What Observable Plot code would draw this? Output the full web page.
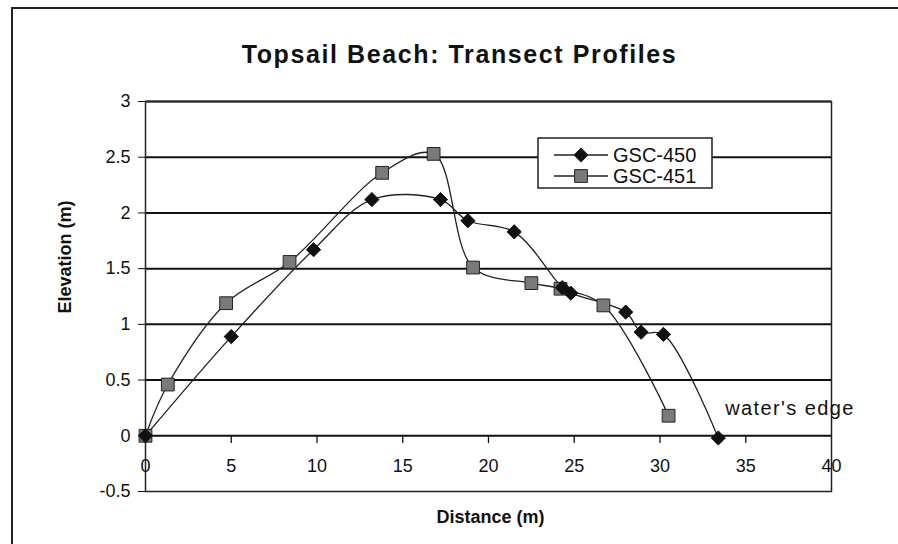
<!DOCTYPE html>
<html>
<head>
<meta charset="utf-8">
<script src="https://cdn.jsdelivr.net/npm/d3@7"></script>
<script src="https://cdn.jsdelivr.net/npm/@observablehq/plot@0.6"></script>
<style>
  html, body { margin: 0; padding: 0; background: #fff; }
</style>
</head>
<body>
<div id="chart"></div>
<script>
const title = "Topsail Beach: Transect Profiles";
const xLabel = "Distance (m)";
const yLabel = "Elevation (m)";
const seriesNames = ["GSC-450", "GSC-451"];

const x450 = [0, 5.0, 9.8, 13.2, 17.2, 18.8, 21.5, 24.3, 24.8, 28.0, 28.9, 30.2, 33.4];
const y450 = [0, 0.89, 1.67, 2.12, 2.12, 1.93, 1.83, 1.33, 1.28, 1.11, 0.93, 0.91, -0.02];

const x451 = [0, 1.3, 4.7, 8.4, 13.8, 16.8, 19.1, 22.5, 24.2, 26.7, 30.5];
const y451 = [0, 0.46, 1.19, 1.56, 2.36, 2.53, 1.51, 1.37, 1.32, 1.17, 0.18];

const xTicks = [0, 5, 10, 15, 20, 25, 30, 35, 40];
const yTicks = [-0.5, 0, 0.5, 1, 1.5, 2, 2.5, 3];

const annotationText = ["water's edge"];
const annotationX = [33.8];
const annotationY = [0.24];

const d450 = x450.map((x, i) => ({x, y: y450[i], s: seriesNames[0]}));
const d451 = x451.map((x, i) => ({x, y: y451[i], s: seriesNames[1]}));
const annotations = annotationText.map((t, i) => ({t, x: annotationX[i], y: annotationY[i]}));

const font = "'Liberation Sans', Arial, sans-serif";

const plot = Plot.plot({
  width: 898,
  height: 544,
  marginLeft: 145,
  marginRight: 67,
  marginTop: 101,
  marginBottom: 53,
  style: {fontFamily: font, background: "#fff", color: "#111", overflow: "visible"},
  x: {domain: [0, 40], axis: null},
  y: {domain: [-0.5, 3]},
  marks: [
    Plot.ruleY(yTicks.filter(d => d >= 0), {stroke: "#111", strokeWidth: 2}),
    Plot.frame({stroke: "#222", strokeWidth: 1.5}),
    Plot.axisY({ticks: yTicks, tickSize: 7, tickPadding: 8, fontSize: 18, label: null, tickFormat: d => String(d), stroke: "#111"}),
    Plot.ruleX(xTicks.filter(d => d > 0 && d < 40), {x: d => d, y1: 0, y2: -0.07, stroke: "#111", strokeWidth: 1.3}),
    Plot.text(xTicks, {x: d => d, y: 0, dy: 30, text: d => String(d), fontSize: 18, fill: "#111"}),
    Plot.line(d451, {x: "x", y: "y", curve: "catmull-rom", stroke: "#222", strokeWidth: 1.3}),
    Plot.line(d450, {x: "x", y: "y", curve: "catmull-rom", stroke: "#222", strokeWidth: 1.3}),
    Plot.dot(d451, {x: "x", y: "y", symbol: "square", r: 7.2, fill: "#7a7a7a", stroke: "#222", strokeWidth: 1}),
    Plot.dot(d450, {x: "x", y: "y", symbol: "diamond2", r: 6.4, fill: "#111", stroke: "#111", strokeWidth: 1}),
    Plot.text(annotations, {x: "x", y: "y", text: "t", textAnchor: "start", fontSize: 20, fill: "#111"}),
    Plot.text([title], {frameAnchor: "top", text: d => d, dx: -29, dy: -56, fontSize: 25, fontWeight: "bold", fill: "#111"}),
    Plot.text([yLabel], {frameAnchor: "left", text: d => d, rotate: -90, dx: -80, dy: 17, fontSize: 18, fontWeight: "bold", fill: "#111"}),
    Plot.text([xLabel], {frameAnchor: "bottom", text: d => d, dx: 2, dy: 31, fontSize: 18, fontWeight: "bold", fill: "#111"})
  ]
});

document.getElementById("chart").appendChild(plot);

const svg = d3.select(plot);
// letter spacing for stretched texts
svg.selectAll("text").each(function () {
  const t = this.textContent;
  if (t === title) this.setAttribute("letter-spacing", "1.6");
  if (annotationText.includes(t)) this.setAttribute("letter-spacing", "1.4");
});

// outer chart border and legend (layout only)
svg.append("path").attr("d", "M12,544V8H898").attr("fill", "none").attr("stroke", "#222").attr("stroke-width", 2);

const lg = svg.append("g").attr("font-family", font).attr("text-anchor", "start");
lg.append("rect").attr("x", 538).attr("y", 138).attr("width", 174).attr("height", 50)
  .attr("fill", "#fff").attr("stroke", "#222").attr("stroke-width", 1.5);
const sym = [d3.symbolDiamond2, d3.symbolSquare];
const symR = [6.4, 7.2];
const symFill = ["#111", "#7a7a7a"];
seriesNames.forEach((name, i) => {
  const yy = 155 + i * 21;
  lg.append("line").attr("x1", 554).attr("x2", 608).attr("y1", yy).attr("y2", yy)
    .attr("stroke", "#222").attr("stroke-width", 1.3);
  lg.append("path").attr("transform", `translate(581,${yy})`)
    .attr("d", d3.symbol(sym[i], Math.PI * symR[i] * symR[i])())
    .attr("fill", symFill[i]).attr("stroke", "#222").attr("stroke-width", 1);
  lg.append("text").attr("x", 613).attr("y", yy).attr("dy", "0.35em")
    .attr("text-anchor", "start").attr("font-size", 20).attr("fill", "#111").text(name);
});
</script>
</body>
</html>
